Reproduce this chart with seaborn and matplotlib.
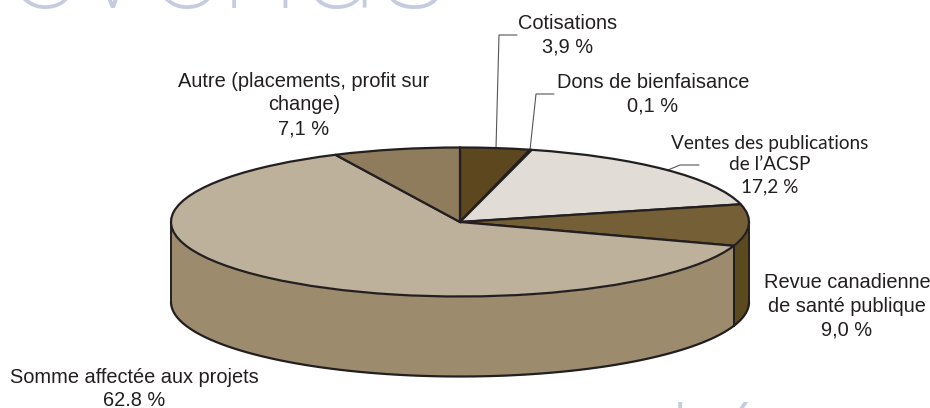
import numpy as np
import matplotlib
matplotlib.use("Agg")
import matplotlib.pyplot as plt
import seaborn as sns

sns.set_theme(style="white")
plt.rcParams['font.family'] = ['Liberation Sans', 'DejaVu Sans']

# Data
labels = ["Cotisations", "Dons de bienfaisance", "Ventes des publications", "Revue canadienne", "Somme affectée aux projets", "Autre"]
values = [3.9, 0.1, 17.2, 9.0, 62.8, 7.1]
top_colors = ["#5c471f", "#5c471f", "#e1ddd6", "#745f37", "#bdb19b", "#8e7c5c"]
side_colors = ["#4a3917", "#4a3917", "#b5b0a6", "#5c4a1f", "#9c8b6d", "#6f6045"]

W, H = 930, 408
cx, cy = 460, 222      # pie centre in pixels
rx, ry = 289, 74.5     # ellipse radii
depth = 80

fig = plt.figure(figsize=(9.3, 4.08), dpi=100)
ax = fig.add_axes([0, 0, 1, 1])

edge = "#231f20"

# top of the pie, clockwise from 12 o'clock
wedges, _ = ax.pie(values, startangle=90, counterclock=False, colors=top_colors,
                   wedgeprops=dict(edgecolor=edge, linewidth=1.6, zorder=3))
ax.set_aspect('auto')
ax.set_xlim(-cx / rx, (W - cx) / rx)
ax.set_ylim(-(H - cy) / ry, cy / ry)
ax.axis('off')

# side wall, only the part of each slice that faces the viewer
d = depth / ry
for w, col in zip(wedges, side_colors):
    lo = max(np.radians(w.theta1), -np.pi)
    hi = min(np.radians(w.theta2), 0)
    if hi <= lo:
        continue
    t = np.linspace(lo, hi, 100)
    x = np.cos(t)
    y = np.sin(t)
    ax.fill_between(x, y, y - d, color=col, lw=0, zorder=1)
    ax.plot(x, y - d, color=edge, lw=1.6, zorder=2)
    for k in (0, -1):
        ax.plot([x[k], x[k]], [y[k], y[k] - d], color=edge, lw=1.4, zorder=2)


def px(x, y):
    return (x - cx) / rx, (cy - y) / ry


# labels
txt = dict(ha='center', va='center', color="#231f20", fontsize=14.4, linespacing=1.33, zorder=5)
ax.text(*px(568, 35), "Cotisations\n3,9 %", **txt)
ax.text(*px(653, 94), "Dons de bienfaisance\n0,1 %", **txt)
ax.text(*px(770, 165), "Ventes des publications\nde l’ACSP\n17,2 %",
        **{**txt, 'fontsize': 13.7}, family='Lato')
ax.text(*px(847, 306), "Revue canadienne\nde santé publique\n9,0 %", **txt)
ax.text(*px(134, 389), "Somme affectée aux projets\n62.8 %", **txt)
ax.text(*px(304, 105), "Autre (placements, profit sur\nchange)\n7,1 %", **txt)

# leader lines
lead = dict(color="#555555", lw=0.8, zorder=2)
ax.plot(*zip(px(496, 148), px(499, 35), px(517, 35)), **lead)
ax.plot(*zip(px(530, 150), px(536, 94), px(554, 94)), **lead)
ax.plot(*zip(px(668, 170), px(680, 165), px(699, 165)), **lead)

# background words, cut by the edges of the picture
ax.text(*px(205, 8), "revenus", ha='center', va='baseline', fontsize=104, color="#c6cce0",
        family='Roboto', fontweight='light', zorder=0)
ax.text(*px(914, 511), "dépenses", ha='center', va='baseline', fontsize=104, color="#c6cce0",
        family='Roboto', fontweight='light', zorder=0)

fig.savefig("out.png", dpi=100)
